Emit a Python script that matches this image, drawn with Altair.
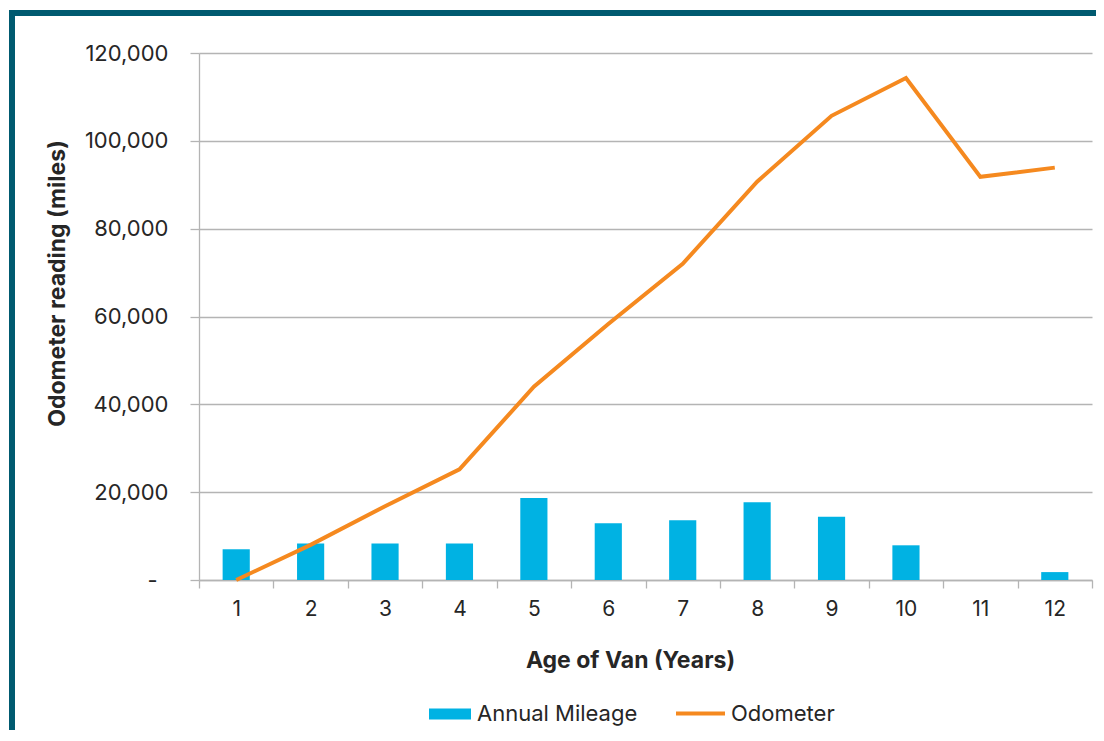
import altair as alt
import pandas as pd

# ---- data ----
years = [1, 2, 3, 4, 5, 6, 7, 8, 9, 10, 11, 12]
annual_mileage = [7000, 8300, 8300, 8300, 18700, 12900, 13600, 17700, 14400, 7900, 0, 1800]
odometer = [0, 8000, 16800, 25200, 44000, 58300, 72000, 90700, 105700, 114300, 91800, 93900]
y_ticks = [0, 20000, 40000, 60000, 80000, 100000, 120000]

df = pd.DataFrame({
    "year": years,
    "annual": annual_mileage,
    "odo": odometer,
    "s_bar": ["Annual Mileage"] * len(years),
    "s_line": ["Odometer"] * len(years),
})

FONT = "Inter"
TXT = "#262626"
GRID = "#B4B4B4"
CYAN = "#00B2E3"
ORANGE = "#F5891F"
FRAME = "#005A70"

W, H = 893, 527

x_enc = alt.X(
    "year:O",
    scale=alt.Scale(paddingInner=0, paddingOuter=0),
    axis=alt.Axis(
        title="Age of Van (Years)",
        labelAngle=0,
        tickBand="extent",
        grid=False,
        tickSize=8,
        tickColor=GRID,
        tickWidth=1.3,
        domainColor=GRID,
        domainWidth=1.3,
        labelPadding=10,
        labelFontSize=21,
        labelColor=TXT,
        labelFont=FONT,
        titleFont=FONT,
        titleFontSize=23,
        titleFontWeight="bold",
        titleColor=TXT,
        titleX=431,
        titleY=80,
        titleBaseline="middle",
    ),
)

y_axis = alt.Axis(
    title="Odometer reading (miles)",
    values=y_ticks,
    labelExpr="datum.value == 0 ? '-' : format(datum.value, ',')",
    grid=True,
    gridColor=GRID,
    gridWidth=1.3,
    domain=True,
    domainColor=GRID,
    domainWidth=1.3,
    tickSize=9,
    tickColor=GRID,
    tickWidth=1.3,
    labelPadding={"condition": {"test": "datum.value == 0", "value": 33}, "value": 22},
    labelFontSize=22,
    labelColor=TXT,
    labelFont=FONT,
    titleFont=FONT,
    titleFontSize=23,
    titleFontWeight="bold",
    titleColor=TXT,
    titleAngle=270,
    titleX=-142,
    titleY=230,
    titleAlign="center",
    titleBaseline="middle",
)

y_scale = alt.Scale(domain=[0, 120000], nice=False)

bars = alt.Chart(df).mark_bar(width=alt.RelativeBandSize(0.365)).encode(
    x=x_enc,
    y=alt.Y("annual:Q", scale=y_scale, axis=y_axis),
    fill=alt.Fill(
        "s_bar:N",
        scale=alt.Scale(domain=["Annual Mileage"], range=[CYAN]),
        legend=alt.Legend(
            title=None,
            orient="none",
            legendX=230,
            legendY=640,
            symbolType="M-1,-0.26H1V0.26H-1Z",
            symbolSize=1764,
            symbolStrokeWidth=0,
            labelOffset=6,
            labelFontSize=22,
            labelLimit=400,
            labelFont=FONT,
            labelColor=TXT,
        ),
    ),
)

line = alt.Chart(df).mark_line(strokeWidth=4, color=ORANGE).encode(
    x=alt.X("year:O"),
    y=alt.Y("odo:Q", scale=y_scale),
    stroke=alt.Stroke(
        "s_line:N",
        scale=alt.Scale(domain=["Odometer"], range=[ORANGE]),
        legend=alt.Legend(
            title=None,
            orient="none",
            legendX=475,
            legendY=634,
            symbolType="stroke",
            symbolSize=2401,
            symbolStrokeWidth=4,
            labelOffset=4,
            labelFontSize=22,
            labelLimit=400,
            labelFont=FONT,
            labelColor=TXT,
        ),
    ),
)

frame_df = pd.DataFrame({"f": [0]})
frame_top = alt.Chart(frame_df).mark_rule(stroke=FRAME, strokeWidth=6).encode(
    x=alt.value(-190),
    x2=alt.value(1000),
    y=alt.value(-40),
)
frame_left = alt.Chart(frame_df).mark_rule(stroke=FRAME, strokeWidth=6).encode(
    x=alt.value(-187),
    y=alt.value(-43),
    y2=alt.value(720),
)

chart = alt.layer(bars, line, frame_top, frame_left).resolve_scale(
    fill="independent", stroke="independent"
).properties(
    width=W,
    height=H,
    autosize=alt.AutoSizeParams(type="none"),
    padding={"left": 191, "top": 45, "right": 4, "bottom": 150},
    background="white",
).configure_view(stroke=None)

chart.save("out.html", embed_options={"renderer": "svg", "actions": False})
